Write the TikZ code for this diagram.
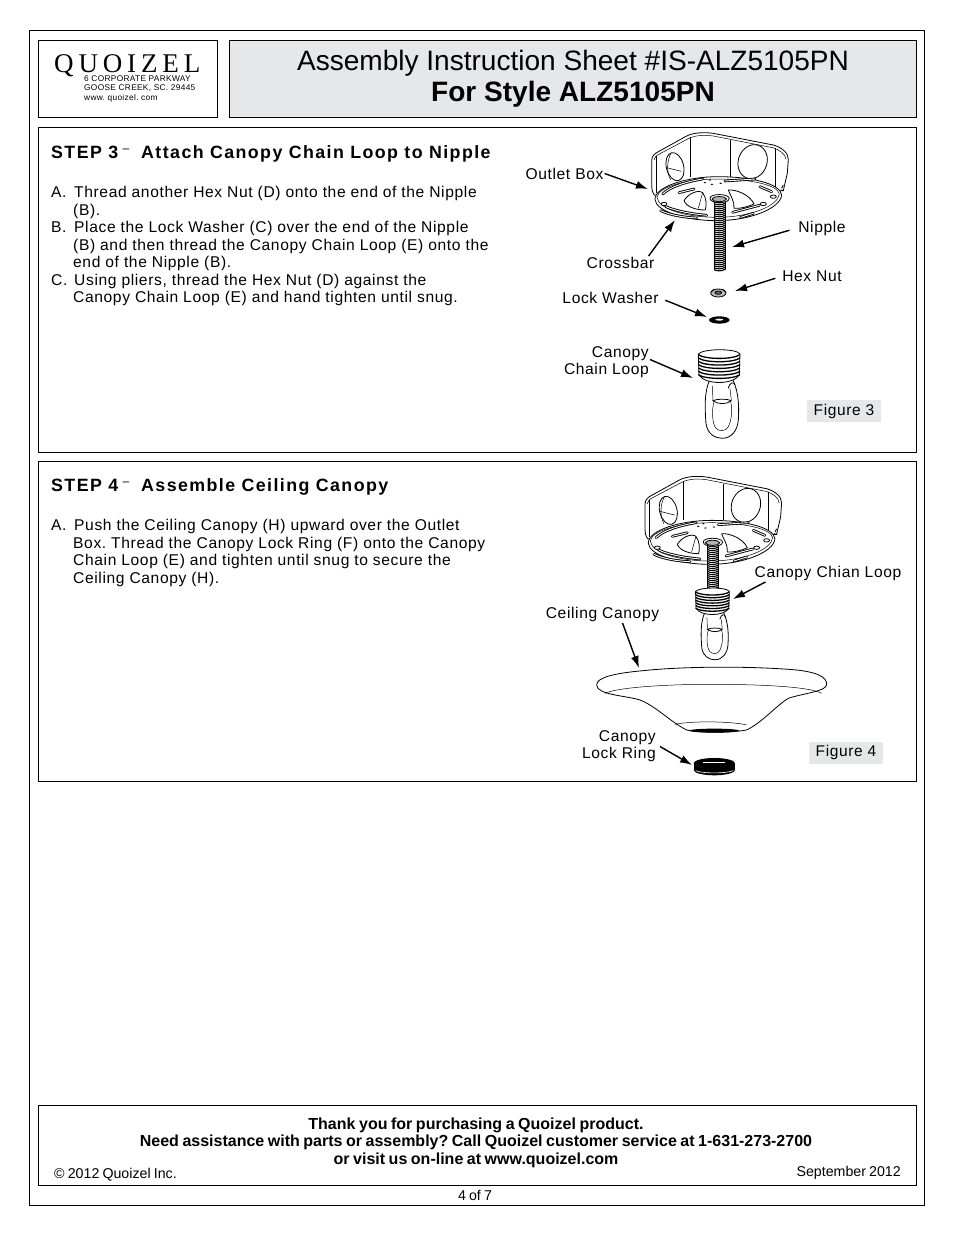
\documentclass[tikz,border=0pt]{standalone}
\usepackage{fontspec}
\setmainfont{Liberation Sans}
\newfontfamily\trackfont[LetterSpace=4]{Liberation Sans}
\newfontfamily\stepfont[LetterSpace=8]{Liberation Sans}
\newfontfamily\logofont[LetterSpace=18]{Liberation Serif}
\newfontfamily\tightfont[WordSpace=0.5]{Liberation Sans}
\newfontfamily\footfont[WordSpace=0.8]{Liberation Sans}
\usetikzlibrary{arrows.meta,calc,positioning}
\definecolor{sheetgray}{HTML}{E6E7E8}
\AtBeginDocument{\frenchspacing}
\newcommand{\listmark}[1]{\makebox[23pt][l]{#1}}
\tikzset{
    frame/.style={draw=black,line width=0.8pt},
    lbl/.style={font=\trackfont\fontsize{15.6}{17}\selectfont,inner sep=1pt,align=right},
    body/.style={font=\trackfont\fontsize{15.6}{17.5}\selectfont,inner sep=0pt,anchor=north west,align=left},
    stephead/.style={font=\stepfont\bfseries\fontsize{17.8}{20}\selectfont,inner sep=0pt,anchor=base west},
    foot/.style={font=\footfont\bfseries\fontsize{16}{17.5}\selectfont,inner sep=0pt,align=center},
    smalltext/.style={font=\tightfont\fontsize{14.2}{14}\selectfont,inner sep=0pt},
    figtag/.style={fill=sheetgray,font=\trackfont\fontsize{15.5}{17}\selectfont,minimum width=74pt,minimum height=22pt,inner sep=0pt},
    callout/.style={line width=1.4pt,-{Latex[length=12pt,width=8pt]}},
    thin line/.style={line width=0.5pt},
    hw/.style={line width=0.8pt,line join=round},
    slot/.style={line width=0.9pt,double=white,double distance=0.9pt,line cap=round},
    outletbox/.pic={
        % body of the box
        \draw[hw,fill=white] (433,195) .. controls (426,185) and (425,175) .. (425,165) -- (425,92)
            .. controls (425,78) and (435,70) .. (445,65) -- (530,18)
            .. controls (550,8) and (580,6) .. (610,10) -- (790,45)
            .. controls (815,52) and (835,68) .. (835,88) -- (832,130) -- (820,182) -- cycle;
        \draw[thin line] (432,90) .. controls (432,82) and (440,76) .. (450,71) -- (535,26)
            .. controls (555,16) and (580,14) .. (610,18) -- (788,53)
            .. controls (810,60) and (826,72) .. (828,88);
        \foreach \xa/\ya/\yb in {540/22/140,660/30/140,795/55/172,438/78/190}
            \draw[thin line] (\xa,\ya) -- (\xa,\yb);
        % knock-out holes
        \draw[hw,fill=white,rotate around={14:(495,110)}] (495,110) ellipse (26 and 43);
        \draw[thin line] (483,70) .. controls (472,90) and (468,125) .. (482,150);
        \draw[thin line] (470,113) -- (514,124);
        \draw[hw,fill=white,rotate around={-20:(728,95)}] (728,95) ellipse (43 and 52);
        % mounting plate
        \draw[hw,fill=white] (435,208) .. controls (435,170) and (530,140) .. (625,140)
            .. controls (720,140) and (812,160) .. (815,195)
            .. controls (812,235) and (720,272) .. (620,272)
            .. controls (530,272) and (437,245) .. cycle;
        \draw[thin line] (441,202) .. controls (445,170) and (530,147) .. (625,147)
            .. controls (720,147) and (805,165) .. (808,192)
            .. controls (805,228) and (720,262) .. (620,262)
            .. controls (530,262) and (445,238) .. cycle;
        \draw[hw] (815,175) -- (820,165) (812,180) -- (822,182);
        % slots of the plate
        \draw[slot] (458,192) .. controls (480,170) and (530,155) .. (578,147);
        \draw[slot] (507,188) -- (552,177);
        \draw[slot] (452,242) .. controls (480,255) and (520,262) .. (560,264);
        \draw[slot] (468,230) .. controls (490,240) and (530,250) .. (590,256);
        \draw[slot] (668,247) -- (748,226);
        \draw[slot] (692,262) -- (730,250);
        \draw[slot] (645,153) -- (735,147);
        \draw[slot] (750,170) -- (785,185);
        \foreach \xa/\ya in {462/222,790/200,760/222}
            \draw[hw,fill=white] (\xa,\ya) ellipse (9 and 5);
        \foreach \xa/\ya in {600/150,606/163,632/160,585/158}
            \fill (\xa,\ya) ellipse (4 and 2);
        % centre openings
        \draw[hw,fill=white] (522,212) .. controls (535,190) and (565,178) .. (578,188)
            .. controls (590,205) and (590,225) .. (586,240)
            .. controls (560,240) and (530,232) .. cycle;
        \draw[thin line] (578,188) -- (565,235);
        \draw[hw,fill=white] (655,180) .. controls (680,178) and (720,195) .. (732,222)
            .. controls (710,232) and (690,236) .. (672,235) .. controls (675,215) and (660,195) .. cycle;
    },
    threadrod/.pic={
        \fill[white] (612,212) rectangle (646,#1);
        \foreach \ya in {215,221,...,#1}
            \draw[line width=1.1pt] (612,\ya) .. controls (620,\ya+5) and (638,\ya+5) .. (646,\ya-2);
        \draw[hw] (612,212) -- (612,#1) (646,212) -- (646,#1);
        % collar
        \draw[hw,fill=white] (600,205) .. controls (600,190) and (655,190) .. (658,205)
            .. controls (658,222) and (600,222) .. cycle;
        \draw[hw,fill=gray!60] (606,207) .. controls (610,197) and (645,197) .. (650,207)
            .. controls (645,218) and (610,218) .. cycle;
    },
    chainloop/.pic={
        % hook below the thread
        \draw[hw,fill=white] (600,748) .. controls (580,790) and (586,850) .. (588,880)
            .. controls (592,912) and (615,925) .. (637,925)
            .. controls (665,925) and (683,900) .. (685,870)
            .. controls (687,835) and (688,790) .. (668,748);
        \draw[thin line,fill=white] (612,815) .. controls (605,840) and (606,880) .. (618,895)
            .. controls (628,905) and (648,905) .. (655,890)
            .. controls (665,870) and (668,840) .. (662,815) -- cycle;
        \draw[hw,fill=white] (608,812) .. controls (625,806) and (650,806) .. (664,812)
            .. controls (650,824) and (625,824) .. cycle;
        \draw[hw] (655,775) .. controls (660,755) and (672,755) .. (675,765);
        \draw[thin line] (607,768) -- (609,810) (660,776) -- (664,810);
        % threaded part
        \draw[hw,fill=white] (565,672) .. controls (580,655) and (680,655) .. (690,672)
            -- (688,735) .. controls (670,765) and (585,765) .. (567,735) -- cycle;
        \foreach \ya in {674,684,...,734}
            \draw[line width=1.3pt] (565,\ya) .. controls (585,\ya+15) and (670,\ya+15) .. (690,\ya);
    },
    lockwasher/.pic={
        \fill (628,570) ellipse (31 and 11);
        \fill[white] (628,569) ellipse (12 and 3);
    },
    hexnut/.pic={
        \draw[hw,fill=gray!55] (625,489) ellipse (23 and 12);
        \draw[hw,fill=gray!80!black] (625,488) ellipse (10 and 5);
        \draw[hw] (603,487) -- (612,478) (647,487) -- (638,478);
    },
    ceilingcanopy/.pic={
        \draw[hw,fill=white] (200,660) .. controls (200,638) and (250,625) .. (340,617)
            .. controls (450,605) and (650,602) .. (800,615)
            .. controls (860,622) and (892,635) .. (890,660)
            .. controls (885,680) and (820,685) .. (775,700)
            .. controls (735,725) and (700,770) .. (650,795)
            .. controls (600,804) and (510,804) .. (470,795)
            .. controls (420,770) and (380,725) .. (330,705)
            .. controls (290,692) and (200,690) .. (200,660) -- cycle;
        \draw[thin line] (225,685) .. controls (260,668) and (400,658) .. (545,658)
            .. controls (690,658) and (840,665) .. (875,685);
        \draw[thin line] (435,778) .. controls (480,768) and (600,768) .. (650,780);
        \fill (553,797) ellipse (75 and 6);
    },
    lockring/.pic={
        \fill (553,895) ellipse (62 and 16);
        \fill (553,915) ellipse (62 and 16);
        \fill (491,895) rectangle (615,915);
        \draw[white,line width=0.6pt] (520,893) -- (585,893);
        \draw[white,line width=0.6pt] (497,917) .. controls (515,926) and (590,926) .. (610,917);
    }
}
\begin{document}
\begin{tikzpicture}[x=1pt,y=-1pt]
    \useasboundingbox (0,0) rectangle (954,1235);

    \draw[frame] (29,30) rectangle (924,1205);
    \draw[frame] (38,40) rectangle (217,117);
    \draw[frame,fill=sheetgray] (229,40) rectangle (916,117);
    \draw[frame] (38,127) rectangle (916,452);
    \draw[frame] (38,461) rectangle (916,781);
    \draw[frame] (38,1105) rectangle (916,1185);

    % header
    \node[font=\logofont\fontsize{27}{27}\selectfont,inner sep=0pt,text depth=0pt,anchor=base west] (logo) at (54,72) {QUOIZEL};
    \node[font=\trackfont\fontsize{8.3}{9.3}\selectfont,inner sep=0pt,anchor=north west,align=left] (addr) at (84,75.5)
        {6 CORPORATE PARKWAY\\GOOSE CREEK, SC. 29445\\www. quoizel. com};
    \node[font=\fontsize{28.05}{31}\selectfont,inner sep=0pt,align=center] (title) at (573,78.5)
        {Assembly Instruction Sheet \#IS-ALZ5105PN\\\textbf{For Style ALZ5105PN}};

    % step 3
    \node[stephead] (head3) at (51,158) {STEP 3};
    \node[font=\fontsize{12}{12}\selectfont,inner sep=0pt] (dash3) at (126,150.5) {\textendash};
    \node[stephead] (title3) at (141,158) {Attach Canopy Chain Loop to Nipple};
    \node[body] (text3) at (51,186.2)
        {\listmark{A.}Thread another Hex Nut (D) onto the end of the Nipple\\
        \hspace*{22pt}(B).\\
        \listmark{B.}Place the Lock Washer (C) over the end of the Nipple\\
        \hspace*{22pt}(B) and then thread the Canopy Chain Loop (E) onto the\\
        \hspace*{22pt}end of the Nipple (B).\\
        \listmark{C.}Using pliers, thread the Hex Nut (D) against the\\
        \hspace*{22pt}Canopy Chain Loop (E) and hand tighten until snug.};

    \pic at (510,130) [scale=0.3333] {outletbox};
    \pic at (510,130) [scale=0.3333] {threadrod=420};
    \pic at (510,130) [scale=0.3333] {hexnut};
    \pic at (510,130) [scale=0.3333] {lockwasher};
    \pic at (510,130) [scale=0.3333] {chainloop};

    \node[lbl] (outletlbl) at (564.5,173.5) {Outlet Box};
    \node[lbl] (nipplelbl) at (822,228) {Nipple};
    \node[lbl] (crossbarlbl) at (620.5,263) {Crossbar};
    \node[lbl] (hexnutlbl) at (812,276.5) {Hex Nut};
    \node[lbl] (washerlbl) at (610.5,298) {Lock Washer};
    \node[lbl,anchor=east] (chainlbl) at (650,362.5) {Canopy\\Chain Loop};
    \node[figtag] (fig3) at (844,411) {Figure 3};

    \coordinate (outlettip) at (648,189);
    \coordinate (nippletip) at (732,247);
    \coordinate (crossbartip) at (675,220);
    \coordinate (hexnuttip) at (735,291);
    \coordinate (washertip) at (707,317);
    \coordinate (chaintip) at (693,378);
    \draw[callout] (outletlbl.east) -- (outlettip);
    \draw[callout,shorten <=8pt] (nipplelbl.west) -- (nippletip);
    \draw[callout] ([xshift=-7pt]crossbarlbl.north east) -- (crossbartip);
    \draw[callout,shorten <=6pt] (hexnutlbl.west) -- (hexnuttip);
    \draw[callout,shorten <=6pt] (washerlbl.east) -- (washertip);
    \draw[callout] ([yshift=3pt]chainlbl.east) -- (chaintip);

    % step 4
    \node[stephead] (head4) at (51,491) {STEP 4};
    \node[font=\fontsize{12}{12}\selectfont,inner sep=0pt] (dash4) at (126,483.5) {\textendash};
    \node[stephead] (title4) at (141,491) {Assemble Ceiling Canopy};
    \node[body] (text4) at (51,519.2)
        {\listmark{A.}Push the Ceiling Canopy (H) upward over the Outlet\\
        \hspace*{22pt}Box. Thread the Canopy Lock Ring (F) onto the Canopy\\
        \hspace*{22pt}Chain Loop (E) and tighten until snug to secure the\\
        \hspace*{22pt}Ceiling Canopy (H).};

    \pic at (503.3,473.7) [scale=0.3333] {outletbox};
    \pic at (503.3,473.7) [scale=0.3333] {threadrod=345};
    \pic at (543,410) [scale=0.27] {chainloop};
    \pic at (530,465) [scale=0.3333] {ceilingcanopy};
    \pic at (530,465) [scale=0.3333] {lockring};

    \node[lbl] (chianlbl) at (828,573.5) {Canopy Chian Loop};
    \node[lbl] (canopylbl) at (602.5,614.5) {Ceiling Canopy};
    \node[lbl,anchor=east] (ringlbl) at (657,746.5) {Canopy\\Lock Ring};
    \node[figtag] (fig4) at (846,752.5) {Figure 4};

    \coordinate (chiantip) at (733,599);
    \coordinate (canopytip) at (639,668);
    \coordinate (ringtip) at (692,765);
    \draw[callout] ([xshift=12pt]chianlbl.south west) -- (chiantip);
    \draw[callout] ([xshift=20pt]canopylbl.south) -- (canopytip);
    \draw[callout] ([xshift=3pt]ringlbl.east) -- (ringtip);

    % footer
    \node[foot] (thanks) at (476,1142.5)
        {Thank you for purchasing a Quoizel product.\\
        Need assistance with parts or assembly? Call Quoizel customer service at 1-631-273-2700\\
        or visit us on-line at www.quoizel.com};
    \node[smalltext,anchor=west] (copy) at (54,1175) {\textcopyright\ 2012 Quoizel Inc.};
    \node[smalltext,anchor=east] (date) at (901,1172.5) {September 2012};
    \node[smalltext] (pageno) at (475,1195.5) {4 of 7};
\end{tikzpicture}
\end{document}
